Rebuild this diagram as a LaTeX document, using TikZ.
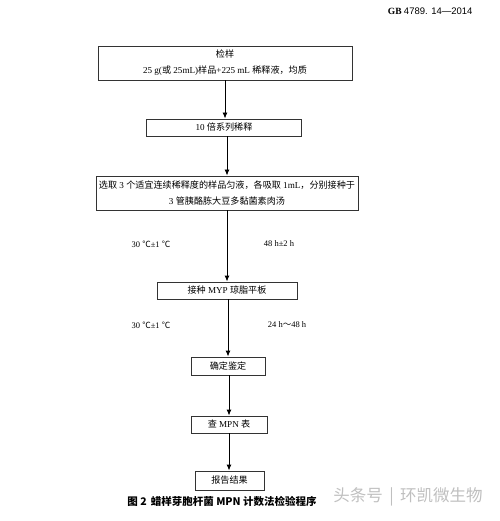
\documentclass[tikz,border=0pt]{standalone}
\usepackage{fontspec}
\setmainfont{Liberation Serif}
\newfontfamily\cjk{Noto Sans CJK SC}
\newfontfamily\arialfont{Liberation Sans}
\newcommand{\zh}[1]{{\cjk #1}}
\usetikzlibrary{arrows.meta}
\begin{document}
\begin{tikzpicture}[x=1pt,y=-1pt,
	box/.style={draw=black!80,line width=0.9pt,inner sep=1pt,align=center,font=\fontsize{9.1}{16}\selectfont},
	cond/.style={font=\fontsize{8.5}{10}\selectfont}]
	\tikzset{>={Latex[length=6pt,width=5pt]}}
	\useasboundingbox (0,0) rectangle (499,521);
	\node[anchor=east,font=\fontsize{9.5}{11}\selectfont] (code) at (476,11) {\textbf{GB} \arialfont 4789. 14—2014};

	% boxes
	\node[box,minimum width=254pt,minimum height=34pt] (sample) at (225,63) {\zh{检样}\\25 g(\zh{或} 25mL)\zh{样品}+225 mL \zh{稀释液，均质}};
	\node[box,minimum width=155pt,minimum height=17pt] (dilute) at (224,127.5) {10 \zh{倍系列稀释}};
	\node[box,minimum width=262pt,minimum height=34pt] (inoc) at (227,193) {\zh{选取} 3 \zh{个适宜连续稀释度的样品匀液，各吸取} 1mL\zh{，分别接种于}\\3 \zh{管胰酪胨大豆多黏菌素肉汤}};
	\node[box,minimum width=140pt,minimum height=17pt] (plate) at (227,290.5) {\zh{接种} MYP \zh{琼脂平板}};
	\node[box,minimum width=74pt,minimum height=18pt] (confirm) at (228,366) {\zh{确定鉴定}};
	\node[box,minimum width=76pt,minimum height=17pt] (table) at (229,424.5) {\zh{查} MPN \zh{表}};
	\node[box,minimum width=69pt,minimum height=19pt] (report) at (229.5,480.5) {\zh{报告结果}};

	% arrows
	\draw[->,line width=0.9pt] (sample.south) -- (sample.south |- dilute.north);
	\draw[->,line width=0.9pt] (inoc.north |- dilute.south) -- (inoc.north);
	\draw[->,line width=0.9pt] (inoc.south) -- (inoc.south |- plate.north);
	\draw[->,line width=0.9pt] (confirm.north |- plate.south) -- (confirm.north);
	\draw[->,line width=0.9pt] (table.north |- confirm.south) -- (table.north);
	\draw[->,line width=0.9pt] (table.south) -- (table.south |- report.north);

	% incubation
	\node[cond] (temp1) at (151,244) {30 \zh{℃}±1 \zh{℃}};
	\node[cond] (time1) at (279,244) {48 h±2 h};
	\node[cond] (temp2) at (151,325) {30 \zh{℃}±1 \zh{℃}};
	\node[cond] (time2) at (287,325) {24 h\zh{～}48 h};

	\node[font=\cjk\bfseries\fontsize{10.5}{12}\selectfont] (caption) at (222,501) {图 2\, 蜡样芽胞杆菌 MPN 计数法检验程序};
	\node[font=\cjk\fontsize{16.5}{18}\selectfont,text=black!25] (mark) at (408,497) {头条号 \,|\, 环凯微生物};
\end{tikzpicture}
\end{document}
